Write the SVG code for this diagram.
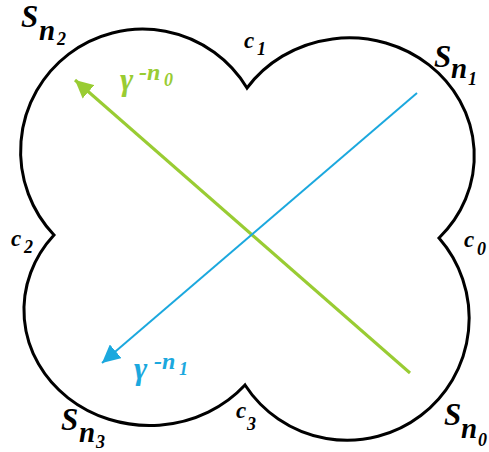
<svg xmlns="http://www.w3.org/2000/svg" width="489" height="452" viewBox="0 0 489 452">
<style>
text{font-family:"Liberation Serif","Times New Roman","DejaVu Serif",serif;font-weight:bold;font-style:italic;fill:#000}
.big{font-size:31px}
.sub{font-size:29px}
.dig{font-size:18px}
.c{font-size:23px}
.gm{font-size:32px}
.sup{font-size:24px}
.g{fill:#99cc33}
.b{fill:#1ba8de}
</style>
<defs>
<marker id="ag" viewBox="0 0 10 10" refX="10" refY="5" markerWidth="18" markerHeight="18" orient="auto" markerUnits="userSpaceOnUse"><path d="M0,0 L10,5 L0,10 z" fill="#99cc33"/></marker>
<marker id="ab" viewBox="0 0 10 10" refX="10" refY="5" markerWidth="18" markerHeight="18" orient="auto" markerUnits="userSpaceOnUse"><path d="M0,0 L10,5 L0,10 z" fill="#1ba8de"/></marker>
</defs>
<rect width="489" height="452" fill="#fff"/>
<g id="outline">
<path d="M54,235 A122,122 0 1 1 247,88 A125,118 0 1 1 439,238 A122,122 0 1 1 245,385 A125,115 0 1 1 54,235 Z" fill="none" stroke="#000" stroke-width="3"/>
</g>
<g id="connectors">
<line x1="410" y1="373" x2="75" y2="80" stroke="#99cc33" stroke-width="3" marker-end="url(#ag)"/>
<line x1="417" y1="93" x2="102" y2="363" stroke="#1ba8de" stroke-width="2" marker-end="url(#ab)"/>
</g>
<g id="S_n2"><text x="21" y="27"><tspan class="big">S</tspan><tspan class="sub" x="39" y="40">n</tspan><tspan class="dig" x="57" y="45">2</tspan></text></g>
<g id="S_n1"><text x="434" y="67"><tspan class="big">S</tspan><tspan class="sub" x="451" y="78">n</tspan><tspan class="dig" x="468" y="85">1</tspan></text></g>
<g id="S_n3"><text x="61" y="430"><tspan class="big">S</tspan><tspan class="sub" x="79" y="442">n</tspan><tspan class="dig" x="96" y="448">3</tspan></text></g>
<g id="S_n0"><text x="444" y="425"><tspan class="big">S</tspan><tspan class="sub" x="461" y="438">n</tspan><tspan class="dig" x="478" y="446">0</tspan></text></g>
<g id="c1"><text x="244" y="48"><tspan class="c">c</tspan><tspan class="dig" x="257" y="55">1</tspan></text></g>
<g id="c0"><text x="464" y="247"><tspan class="c">c</tspan><tspan class="dig" x="477" y="255">0</tspan></text></g>
<g id="c2"><text x="11" y="246"><tspan class="c">c</tspan><tspan class="dig" x="24" y="253">2</tspan></text></g>
<g id="c3"><text x="236" y="418"><tspan class="c">c</tspan><tspan class="dig" x="247" y="430">3</tspan></text></g>
<g id="gamma_n0"><text class="g" x="120" y="90"><tspan class="gm">γ</tspan><tspan class="sup" x="139" y="80">-n</tspan><tspan class="dig" x="164" y="86">0</tspan></text></g>
<g id="gamma_n1"><text class="b" x="134" y="379"><tspan class="gm">γ</tspan><tspan class="sup" x="154" y="369">-n</tspan><tspan class="dig" x="179" y="375">1</tspan></text></g>
</svg>
